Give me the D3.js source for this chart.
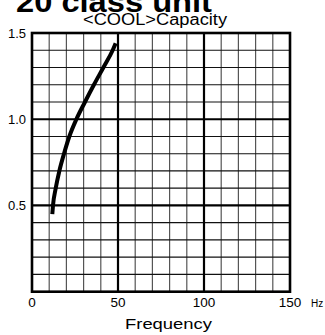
<!DOCTYPE html>
<html>
<head>
<meta charset="utf-8">
<script src="https://cdn.jsdelivr.net/npm/d3@7"></script>
<style>
  html, body { margin: 0; padding: 0; background: #fff; }
  svg { display: block; }
  text { font-family: "Liberation Sans", Arial, Helvetica, sans-serif; fill: #000; }
</style>
</head>
<body>
<svg id="chart" width="325" height="335"></svg>
<script>
// Cooling capacity ratio against compressor frequency
const frequency = [11.8, 12.2, 13.8, 15.9, 18.6, 21.7, 25.8, 30.8, 36.0, 41.5, 46.9, 48.6];
const capacity  = [0.45, 0.5, 0.6, 0.7, 0.8, 0.9, 1.0, 1.1, 1.2, 1.3, 1.4, 1.44];

const xTicks = [0, 50, 100, 150];
const yTicks = [0.5, 1.0, 1.5];

const svg = d3.select("#chart");
const plotLeft = 32, plotRight = 290, plotTop = 33, plotBottom = 291.7;

const x = d3.scaleLinear().domain([0, 150]).range([plotLeft, plotRight]);
const y = d3.scaleLinear().domain([0, 1.5]).range([plotBottom, plotTop]);

// Titles
svg.append("text")
  .attr("x", 16).attr("y", 12)
  .attr("font-size", 30).attr("font-weight", "bold")
  .attr("textLength", 196).attr("lengthAdjust", "spacingAndGlyphs")
  .text("20 class unit");

svg.append("text")
  .attr("x", 83).attr("y", 25)
  .attr("font-size", 16)
  .attr("textLength", 144).attr("lengthAdjust", "spacingAndGlyphs")
  .text("<COOL>Capacity");

// Grid
const g = svg.append("g");
const xMinor = d3.range(10, 150, 10).filter(v => v % 50 !== 0);
const yMinor = d3.range(1, 15).map(v => v / 10).filter(v => Math.round(v * 10) % 5 !== 0);

g.selectAll(".vminor").data(xMinor).join("line")
  .attr("x1", d => x(d)).attr("x2", d => x(d))
  .attr("y1", plotTop).attr("y2", plotBottom)
  .attr("stroke", "#555").attr("stroke-width", 1.2);

g.selectAll(".hminor").data(yMinor).join("line")
  .attr("x1", plotLeft).attr("x2", plotRight)
  .attr("y1", d => y(d)).attr("y2", d => y(d))
  .attr("stroke", "#111").attr("stroke-width", 1.2);

g.selectAll(".vmajor").data([50, 100]).join("line")
  .attr("x1", d => x(d)).attr("x2", d => x(d))
  .attr("y1", plotTop).attr("y2", plotBottom)
  .attr("stroke", "#000").attr("stroke-width", 2.2);

g.selectAll(".hmajor").data([0.5, 1.0]).join("line")
  .attr("x1", plotLeft).attr("x2", plotRight)
  .attr("y1", d => y(d)).attr("y2", d => y(d))
  .attr("stroke", "#000").attr("stroke-width", 2.2);

g.append("rect")
  .attr("x", plotLeft).attr("y", plotTop)
  .attr("width", plotRight - plotLeft).attr("height", plotBottom - plotTop)
  .attr("fill", "none").attr("stroke", "#000").attr("stroke-width", 2.6);

// Axis labels
svg.selectAll(".ylab").data(yTicks).join("text")
  .attr("x", 26).attr("y", d => y(d) + 5)
  .attr("text-anchor", "end").attr("font-size", 13)
  .text(d => d.toFixed(1));

svg.selectAll(".xlab").data(xTicks).join("text")
  .attr("x", d => x(d)).attr("y", 307)
  .attr("text-anchor", "middle").attr("font-size", 13.5)
  .text(d => d);

svg.append("text")
  .attr("x", 311).attr("y", 306.5)
  .attr("font-size", 10).text("Hz");

svg.append("text")
  .attr("x", 125).attr("y", 328.5)
  .attr("font-size", 15)
  .attr("textLength", 87).attr("lengthAdjust", "spacingAndGlyphs")
  .text("Frequency");

// Capacity curve
const line = d3.line()
  .x((d, i) => x(frequency[i]))
  .y(d => y(d))
  .curve(d3.curveMonotoneX);

svg.append("path")
  .datum(capacity)
  .attr("d", line)
  .attr("fill", "none").attr("stroke", "#000")
  .attr("stroke-width", 4);
</script>
</body>
</html>
